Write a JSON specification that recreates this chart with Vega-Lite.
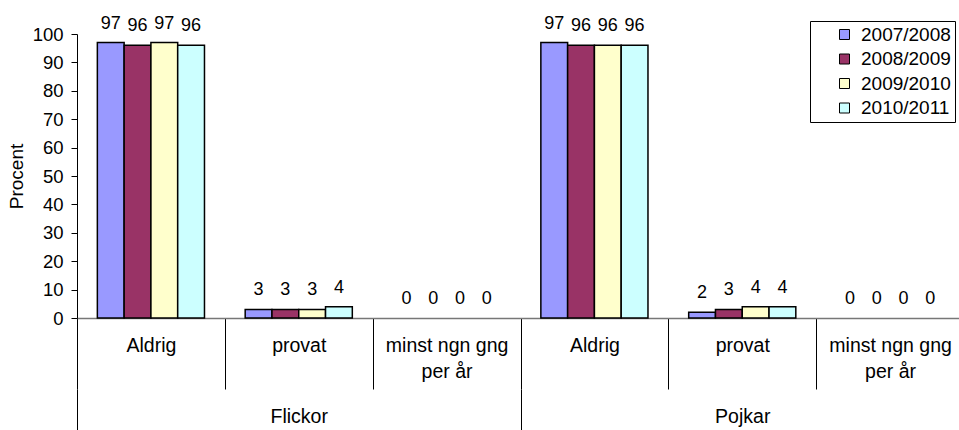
{
  "$schema": "https://vega.github.io/schema/vega-lite/v6.json",
  "width": 882,
  "height": 284,
  "autosize": {"type": "none"},
  "padding": {"left": 77, "top": 34, "right": 0, "bottom": 112},
  "background": "white",
  "config": {
    "view": {"stroke": null},
    "font": "Liberation Sans",
    "axis": {"labelFont": "Liberation Sans", "titleFont": "Liberation Sans", "labelColor": "black", "titleColor": "black", "grid": false}
  },
  "data": {
    "values": [
      {"kon": "Flickor", "kategori": "Aldrig", "grp": "Flickor|Aldrig", "ar": "2007/2008", "procent": 97},
      {"kon": "Flickor", "kategori": "Aldrig", "grp": "Flickor|Aldrig", "ar": "2008/2009", "procent": 96},
      {"kon": "Flickor", "kategori": "Aldrig", "grp": "Flickor|Aldrig", "ar": "2009/2010", "procent": 97},
      {"kon": "Flickor", "kategori": "Aldrig", "grp": "Flickor|Aldrig", "ar": "2010/2011", "procent": 96},
      {"kon": "Flickor", "kategori": "provat", "grp": "Flickor|provat", "ar": "2007/2008", "procent": 3},
      {"kon": "Flickor", "kategori": "provat", "grp": "Flickor|provat", "ar": "2008/2009", "procent": 3},
      {"kon": "Flickor", "kategori": "provat", "grp": "Flickor|provat", "ar": "2009/2010", "procent": 3},
      {"kon": "Flickor", "kategori": "provat", "grp": "Flickor|provat", "ar": "2010/2011", "procent": 4},
      {"kon": "Flickor", "kategori": "minst ngn gng per år", "grp": "Flickor|minst ngn gng per år", "ar": "2007/2008", "procent": 0},
      {"kon": "Flickor", "kategori": "minst ngn gng per år", "grp": "Flickor|minst ngn gng per år", "ar": "2008/2009", "procent": 0},
      {"kon": "Flickor", "kategori": "minst ngn gng per år", "grp": "Flickor|minst ngn gng per år", "ar": "2009/2010", "procent": 0},
      {"kon": "Flickor", "kategori": "minst ngn gng per år", "grp": "Flickor|minst ngn gng per år", "ar": "2010/2011", "procent": 0},
      {"kon": "Pojkar", "kategori": "Aldrig", "grp": "Pojkar|Aldrig", "ar": "2007/2008", "procent": 97},
      {"kon": "Pojkar", "kategori": "Aldrig", "grp": "Pojkar|Aldrig", "ar": "2008/2009", "procent": 96},
      {"kon": "Pojkar", "kategori": "Aldrig", "grp": "Pojkar|Aldrig", "ar": "2009/2010", "procent": 96},
      {"kon": "Pojkar", "kategori": "Aldrig", "grp": "Pojkar|Aldrig", "ar": "2010/2011", "procent": 96},
      {"kon": "Pojkar", "kategori": "provat", "grp": "Pojkar|provat", "ar": "2007/2008", "procent": 2},
      {"kon": "Pojkar", "kategori": "provat", "grp": "Pojkar|provat", "ar": "2008/2009", "procent": 3},
      {"kon": "Pojkar", "kategori": "provat", "grp": "Pojkar|provat", "ar": "2009/2010", "procent": 4},
      {"kon": "Pojkar", "kategori": "provat", "grp": "Pojkar|provat", "ar": "2010/2011", "procent": 4},
      {"kon": "Pojkar", "kategori": "minst ngn gng per år", "grp": "Pojkar|minst ngn gng per år", "ar": "2007/2008", "procent": 0},
      {"kon": "Pojkar", "kategori": "minst ngn gng per år", "grp": "Pojkar|minst ngn gng per år", "ar": "2008/2009", "procent": 0},
      {"kon": "Pojkar", "kategori": "minst ngn gng per år", "grp": "Pojkar|minst ngn gng per år", "ar": "2009/2010", "procent": 0},
      {"kon": "Pojkar", "kategori": "minst ngn gng per år", "grp": "Pojkar|minst ngn gng per år", "ar": "2010/2011", "procent": 0}
    ]
  },
  "layer": [
    {
      "encoding": {
        "x": {
          "field": "grp", "type": "nominal", "sort": null,
          "scale": {"range": [0, 887], "paddingInner": 0, "paddingOuter": 0},
          "axis": {
            "title": null, "labelAngle": 0, "tickBand": "extent", "tickSize": 71,
            "tickColor": "black", "tickWidth": 1, "domainColor": "#777777", "domainWidth": 1.5,
            "labelFontSize": 19.5, "labelPadding": -53, "labelLineHeight": 26,
            "labelExpr": "split(datum.value, '|')[1] == 'minst ngn gng per år' ? ['minst ngn gng', 'per år'] : split(datum.value, '|')[1]"
          }
        },
        "xOffset": {
          "field": "ar", "type": "nominal", "sort": null,
          "scale": {"paddingInner": 0, "paddingOuter": 0.76}
        },
        "y": {
          "field": "procent", "type": "quantitative",
          "scale": {"domain": [0, 100], "nice": false},
          "axis": {
            "title": "Procent", "titleFontSize": 19, "titleFontWeight": "normal", "titlePadding": 6,
            "values": [0, 10, 20, 30, 40, 50, 60, 70, 80, 90, 100],
            "labelFontSize": 18.5, "labelPadding": 8, "tickSize": 6, "tickColor": "black",
            "domainColor": "black", "domainWidth": 1
          }
        }
      },
      "layer": [
        {
          "mark": {"type": "bar", "stroke": "black", "strokeWidth": 1.5},
          "encoding": {
            "strokeOpacity": {"condition": {"test": "datum.procent == 0", "value": 0}, "value": 1},
            "color": {
              "field": "ar", "type": "nominal", "sort": null,
              "scale": {"domain": ["2007/2008", "2008/2009", "2009/2010", "2010/2011"], "range": ["#9999FF", "#993366", "#FFFFCC", "#CCFFFF"]},
              "legend": {
                "title": null, "orient": "none", "legendX": 733, "legendY": -13,
                "symbolType": "square", "symbolSize": 100, "symbolStrokeColor": "black", "symbolStrokeWidth": 1,
                "labelFontSize": 19, "labelFont": "Liberation Sans", "labelColor": "black", "labelAlign": "left",
                "padding": 4, "symbolOffset": 21, "labelOffset": 7, "rowPadding": 4.5,
                "strokeColor": "black", "fillColor": "white"
              }
            }
          }
        },
        {
          "mark": {"type": "text", "baseline": "alphabetic", "dy": -14, "fontSize": 18, "font": "Liberation Sans", "color": "black"},
          "encoding": {"text": {"field": "procent", "type": "quantitative"}}
        }
      ]
    },
    {
      "mark": {"type": "tick", "opacity": 0},
      "encoding": {
        "x": {
          "field": "kon", "type": "nominal", "sort": null,
          "scale": {"range": [0, 887], "paddingInner": 0, "paddingOuter": 0},
          "axis": {
            "title": null, "orient": "bottom", "offset": 71, "domain": false, "labelAngle": 0,
            "tickBand": "extent", "tickSize": 50, "tickColor": "black", "tickWidth": 1,
            "labelFontSize": 19.5, "labelPadding": -32
          }
        }
      }
    }
  ],
  "resolve": {"scale": {"x": "independent"}, "axis": {"x": "independent"}}
}
